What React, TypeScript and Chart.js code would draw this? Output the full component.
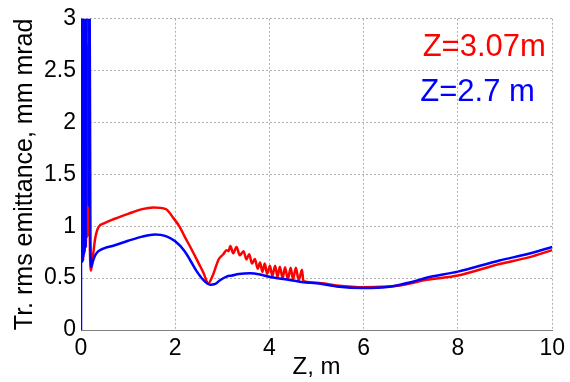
import React, { useEffect, useRef } from "react";
import { Chart, registerables } from "chart.js";

Chart.register(...registerables);

// Z = 2.7 m (blue) : [z (m), emittance (mm mrad)]
const blueZ = [
  0, 0.003, 0.007, 0.011, 0.015, 0.019, 0.023, 0.027, 0.031, 0.035, 0.039, 0.043, 0.047, 0.051,
  0.055, 0.059, 0.063, 0.067, 0.071, 0.075, 0.079, 0.083, 0.087, 0.097, 0.107, 0.155, 0.165,
  0.175, 0.18, 0.2, 0.22, 0.25, 0.3, 0.37, 0.5, 0.7, 1.0, 1.3, 1.57,
  1.8, 2.0, 2.2, 2.32, 2.45, 2.6, 2.74, 2.85, 2.95, 3.09, 3.2, 3.35, 3.59, 3.8, 4.01, 4.4, 4.72,
  5.0, 5.42, 6.0, 6.5, 6.77, 7.0, 7.33, 8.0, 8.88, 9.5, 10,
];
const blueE = [
  0, 3.6, 1.6, 3.6, 1.2, 3.6, 0.75, 3.6, 0.66, 3.6, 0.68, 3.6, 0.7, 3.6,
  0.72, 3.6, 0.73, 3.6, 0.75, 3.6, 0.77, 3.6, 3.6, 0.8, 3.6, 3.6, 1.2,
  3.6, 3.6, 0.85, 0.61, 0.66, 0.72, 0.76, 0.79, 0.815, 0.86, 0.9, 0.92,
  0.905, 0.855, 0.76, 0.67, 0.57, 0.48, 0.437, 0.445, 0.48, 0.515, 0.525, 0.54, 0.547, 0.535, 0.51, 0.485, 0.46,
  0.45, 0.42, 0.405, 0.415, 0.437, 0.46, 0.503, 0.563, 0.67, 0.735, 0.8,
];

// Z = 3.07 m (red)
const redZ = [
  0, 0.01, 0.02, 0.035, 0.045, 0.06, 0.075, 0.09, 0.105, 0.12, 0.135, 0.15, 0.16, 0.172,
  0.185, 0.2, 0.21, 0.24, 0.3, 0.37, 0.5, 0.7, 1.0, 1.3, 1.54, 1.8, 1.96, 2.1, 2.2, 2.32,
  2.5, 2.6, 2.7, 2.8, 2.92, 3.02, 3.09, 3.13,
  3.17, 3.23, 3.3, 3.37, 3.45, 3.51, 3.57, 3.63, 3.69, 3.75, 3.8, 3.85, 3.9, 3.95, 4.01, 4.06,
  4.12, 4.17, 4.22, 4.28, 4.33, 4.39, 4.45, 4.5, 4.56, 4.62, 4.69, 4.72,
  5.0, 5.42, 6.0, 6.5, 6.77, 7.0, 7.33, 8.0, 8.88, 9.5, 10,
];
const redE = [
  1.3, 1.85, 0.7, 2.1, 0.67, 2.3, 0.75, 2.6, 0.8, 2.7, 0.9, 2.75, 1.0, 2.75,
  1.0, 0.62, 0.573, 0.66, 0.88, 0.99, 1.03, 1.07, 1.12, 1.165, 1.18, 1.165, 1.08, 0.99, 0.9, 0.8,
  0.64, 0.55, 0.45, 0.53, 0.68, 0.73, 0.77, 0.76,
  0.81, 0.74, 0.8, 0.72, 0.76, 0.68, 0.73, 0.64, 0.685, 0.59, 0.65, 0.56, 0.64, 0.54, 0.62, 0.52,
  0.62, 0.51, 0.61, 0.5, 0.605, 0.49, 0.6, 0.49, 0.6, 0.48, 0.58, 0.47,
  0.455, 0.43, 0.413, 0.42, 0.43, 0.45, 0.484, 0.525, 0.637, 0.70, 0.77,
];

const xTicks = [0, 2, 4, 6, 8, 10];
const yTicks = [0, 0.5, 1, 1.5, 2, 2.5, 3];

const labelRed = "Z=3.07m";
const labelBlue = "Z=2.7 m";
const xTitle = "Z, m";
const yTitle = "Tr. rms emittance, mm mrad";

const FONT = "'Liberation Sans', Arial, Helvetica, sans-serif";

export default function App() {
  const ref = useRef<HTMLCanvasElement | null>(null);

  useEffect(() => {
    const canvas = ref.current;
    if (!canvas) return;

    const annot = {
      id: "annot",
      afterDatasetsDraw(chart: any) {
        const { ctx } = chart;
        const xs = chart.scales.x;
        const ys = chart.scales.y;
        ctx.save();
        ctx.font = `31px ${FONT}`;
        ctx.textAlign = "left";
        ctx.textBaseline = "alphabetic";
        ctx.fillStyle = "#ff0000";
        ctx.fillText(labelRed, xs.getPixelForValue(7.25), ys.getPixelForValue(2.646));
        ctx.fillStyle = "#0000ff";
        ctx.fillText(labelBlue, xs.getPixelForValue(7.2), ys.getPixelForValue(2.206));
        ctx.restore();
      },
    };

    const toPts = (xs: number[], ys: number[]) => xs.map((x, i) => ({ x, y: ys[i] }));

    const chart = new Chart(canvas, {
      type: "line",
      data: {
        datasets: [
          {
            label: labelBlue,
            data: toPts(blueZ, blueE),
            borderColor: "#0000ff",
            borderWidth: 2.5,
            pointRadius: 0,
            cubicInterpolationMode: "monotone",
            fill: false,
          },
          {
            label: labelRed,
            data: toPts(redZ, redE),
            borderColor: "#ff0000",
            borderWidth: 2.5,
            pointRadius: 0,
            cubicInterpolationMode: "monotone",
            fill: false,
          },
        ],
      },
      options: {
        animation: false,
        responsive: false,
        layout: { padding: { left: 0, top: 16, right: 17, bottom: 0 } },
        plugins: { legend: { display: false }, tooltip: { enabled: false } },
        scales: {
          x: {
            type: "linear",
            min: 0,
            max: 10,
            afterBuildTicks: (s: any) => {
              s.ticks = xTicks.map((v) => ({ value: v }));
            },
            afterFit: (s: any) => {
              s.height = 52;
            },
            ticks: {
              color: "#000",
              font: { family: FONT, size: 23 },
              padding: 5,
              maxRotation: 0,
              callback: (v: any) => String(v),
            },
            grid: { color: "#b0b0b0", drawTicks: false, lineWidth: 1 },
            border: { display: true, color: "#808080", width: 1, dash: [2, 2] },
            title: {
              display: true,
              text: xTitle,
              color: "#000",
              font: { family: FONT, size: 24 },
              padding: { top: 0, bottom: 0 },
            },
          },
          y: {
            type: "linear",
            min: 0,
            max: 3,
            afterBuildTicks: (s: any) => {
              s.ticks = yTicks.map((v) => ({ value: v }));
            },
            afterFit: (s: any) => {
              s.width = 81;
            },
            ticks: {
              color: "#000",
              font: { family: FONT, size: 23 },
              padding: 5,
              callback: (v: any) => String(v),
            },
            grid: { color: "#b0b0b0", drawTicks: false, lineWidth: 1 },
            border: { display: true, color: "#808080", width: 1, dash: [2, 2] },
            title: {
              display: true,
              text: yTitle,
              color: "#000",
              font: { family: FONT, size: 25 },
              padding: { top: 10, bottom: 0 },
            },
          },
        },
      },
      plugins: [annot],
    });

    return () => chart.destroy();
  }, []);

  return (
    <div style={{ position: "absolute", left: 0, top: 0, width: 570, height: 382, background: "#fff" }}>
      <canvas ref={ref} width={570} height={382} />
    </div>
  );
}
